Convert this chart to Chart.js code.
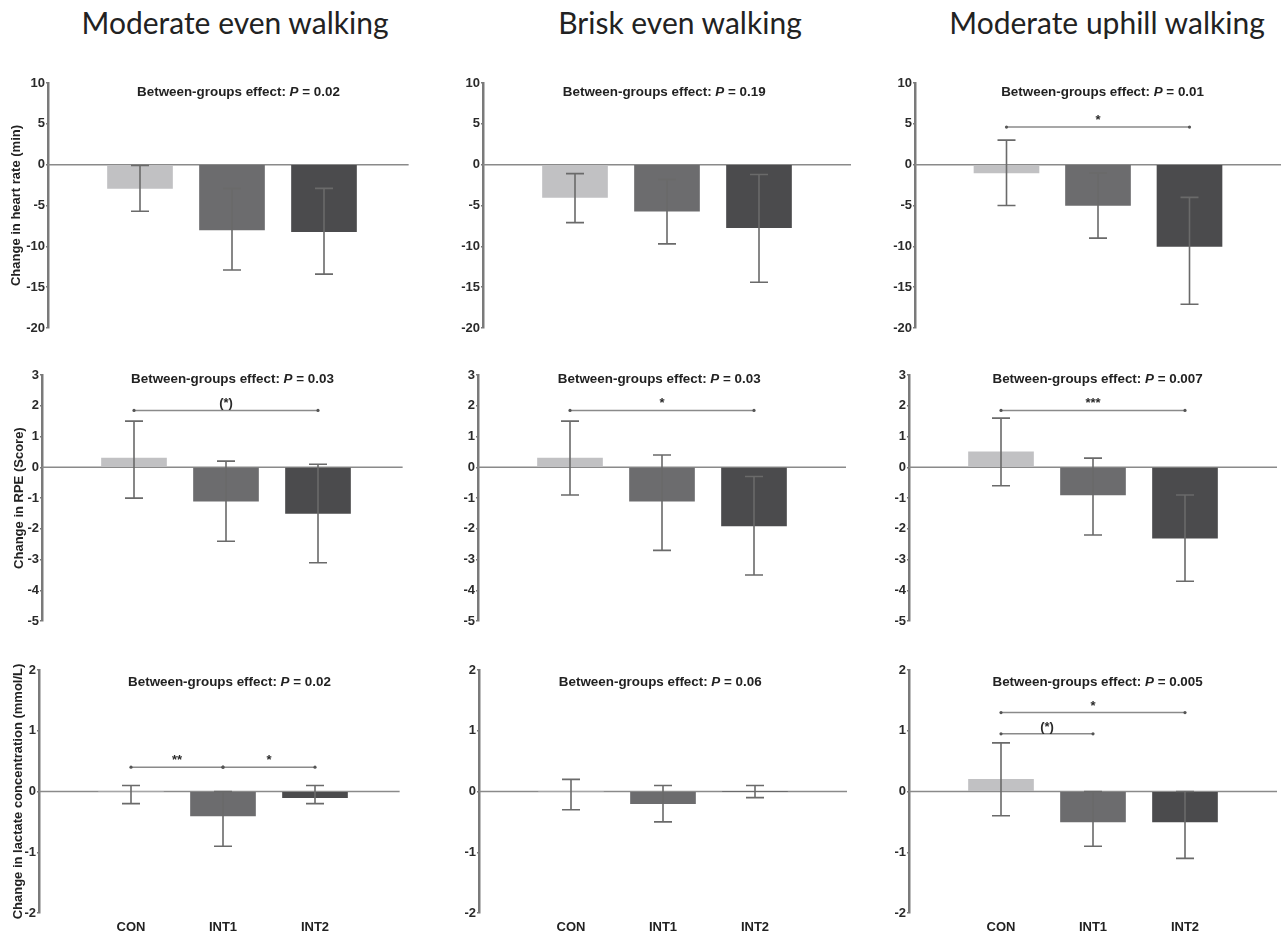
<!DOCTYPE html>
<html>
<head>
<meta charset="utf-8">
<script src="https://cdn.jsdelivr.net/npm/chart.js@4.4.1/dist/chart.umd.min.js"></script>
<style>
  html, body { margin: 0; padding: 0; background: #fff; }
  body { position: relative; width: 1282px; height: 934px; overflow: hidden; }
  .coltitle {
    position: absolute; top: 8px; font-family: Lato, "Open Sans", sans-serif;
    font-size: 30px; line-height: 28px; color: #222; white-space: nowrap;
    transform: translateX(-50%);
  }
  canvas { position: absolute; }
</style>
</head>
<body>
<script>
// groups and conditions
const groups = ["CON", "INT1", "INT2"];
const conditions = ["Moderate even walking", "Brisk even walking", "Moderate uphill walking"];
const measures = ["Change in heart rate (min)", "Change in RPE (Score)", "Change in lactate concentration (mmol/L)"];
const yMin = [-20, -5, -2];
const yMax = [10, 3, 2];
const yStep = [5, 1, 1];

// heart rate: one row per condition, values for CON, INT1, INT2
const hrMean = [[-2.9, -8.0, -8.2], [-4.0, -5.7, -7.7], [-1.0, -5.0, -10.0]];
const hrErrHigh = [[-0.1, -2.9, -2.9], [-1.1, -1.8, -1.2], [3.0, -1.0, -4.0]];
const hrErrLow = [[-5.7, -12.9, -13.4], [-7.1, -9.7, -14.4], [-5.0, -9.0, -17.1]];

// RPE
const rpeMean = [[0.3, -1.1, -1.5], [0.3, -1.1, -1.9], [0.5, -0.9, -2.3]];
const rpeErrHigh = [[1.5, 0.2, 0.1], [1.5, 0.4, -0.3], [1.6, 0.3, -0.9]];
const rpeErrLow = [[-1.0, -2.4, -3.1], [-0.9, -2.7, -3.5], [-0.6, -2.2, -3.7]];

// lactate
const lacMean = [[0.0, -0.4, -0.1], [0.0, -0.2, 0.0], [0.2, -0.5, -0.5]];
const lacErrHigh = [[0.1, 0.0, 0.1], [0.2, 0.1, 0.1], [0.8, 0.0, 0.0]];
const lacErrLow = [[-0.2, -0.9, -0.2], [-0.3, -0.5, -0.1], [-0.4, -0.9, -1.1]];

// between-groups P values (rows: measure, cols: condition)
const pValues = [["0.02", "0.19", "0.01"], ["0.03", "0.03", "0.007"], ["0.02", "0.06", "0.005"]];

// pairwise comparisons: [from group, to group, y value, label]
const hrPairs = [[], [], [[0, 2, 4.6, "*"]]];
const rpePairs = [[[0, 2, 1.85, "(*)"]], [[0, 2, 1.85, "*"]], [[0, 2, 1.85, "***"]]];
const lacPairs = [[[0, 1, 0.4, "**"], [1, 2, 0.4, "*"]], [], [[0, 2, 1.3, "*"], [0, 1, 0.95, "(*)"]]];

const means = [hrMean, rpeMean, lacMean];
const errHigh = [hrErrHigh, rpeErrHigh, lacErrHigh];
const errLow = [hrErrLow, rpeErrLow, lacErrLow];
const pairs = [hrPairs, rpePairs, lacPairs];

// layout
const colLeft = [0, 430, 860];
const colWidth = [430, 430, 422];
const colCenter = [235, 680, 1107];
const rowTop = [60, 340, 630];
const rowHeight = [280, 290, 304];
const plotTop = [83, 375, 670];
const plotBottom = [328, 622, 913];
const axisX = [[48, 483, 915], [42, 478, 909], [39, 479, 909]];
const xMax = [3.92, 4, 4];
const noteX = [2.07, 1.97, 2.05];
const noteOffset = [9, 4, 12];
const titlePad = [9, 12, 11];
const unit = 92;

const FONT = '"Liberation Sans", Arial, sans-serif';
Chart.defaults.font.family = FONT;
Chart.defaults.color = "#2a2a2a";

const barColors = ["#c1c1c3", "#6c6c6e", "#4b4b4d"];

const extras = {
  id: "extras",
  beforeDatasetsDraw(chart) {
    const { ctx, chartArea, scales } = chart;
    const y0 = scales.y.getPixelForValue(0);
    ctx.save();
    ctx.strokeStyle = "#8a8a8a";
    ctx.lineWidth = 1.5;
    ctx.beginPath();
    ctx.moveTo(chartArea.left, y0);
    ctx.lineTo(chartArea.right, y0);
    ctx.stroke();
    ctx.restore();
  },
  afterDatasetsDraw(chart, args, opts) {
    const { ctx, chartArea, scales } = chart;
    const { x, y } = scales;
    ctx.save();

    // error bars
    ctx.strokeStyle = "#6a6a6a";
    ctx.lineWidth = 1.6;
    opts.low.forEach((lo, i) => {
      const px = x.getPixelForValue(i + 1);
      const yl = y.getPixelForValue(lo);
      const yh = y.getPixelForValue(opts.high[i]);
      ctx.beginPath();
      ctx.moveTo(px, yh); ctx.lineTo(px, yl);
      ctx.moveTo(px - 9, yh); ctx.lineTo(px + 9, yh);
      ctx.moveTo(px - 9, yl); ctx.lineTo(px + 9, yl);
      ctx.stroke();
    });

    // significance brackets
    opts.pairs.forEach(([a, b, val, label]) => {
      const x1 = x.getPixelForValue(a + 1);
      const x2 = x.getPixelForValue(b + 1);
      const py = y.getPixelForValue(val);
      ctx.strokeStyle = "#8a8a8a";
      ctx.lineWidth = 1.5;
      ctx.beginPath();
      ctx.moveTo(x1, py); ctx.lineTo(x2, py);
      ctx.stroke();
      ctx.fillStyle = "#555";
      [x1, x2].forEach((ex) => {
        ctx.beginPath();
        ctx.arc(ex, py, 1.6, 0, Math.PI * 2);
        ctx.fill();
      });
      ctx.fillStyle = "#2a2a2a";
      ctx.font = "bold 13px " + FONT;
      ctx.textAlign = "center";
      ctx.textBaseline = "alphabetic";
      ctx.fillText(label, (x1 + x2) / 2, py - 3);
    });

    // between-groups note
    const parts = [
      ["Between-groups effect: ", "bold 13.4px " + FONT],
      ["P", "italic bold 13.4px " + FONT],
      [" = " + opts.p, "bold 13.4px " + FONT]
    ];
    let total = 0;
    parts.forEach(([t, f]) => { ctx.font = f; total += ctx.measureText(t).width; });
    let cx = x.getPixelForValue(opts.noteX) - total / 2;
    const cy = chartArea.top + opts.noteOffset;
    ctx.fillStyle = "#222";
    ctx.textAlign = "left";
    ctx.textBaseline = "middle";
    parts.forEach(([t, f]) => {
      ctx.font = f;
      ctx.fillText(t, cx, cy);
      cx += ctx.measureText(t).width;
    });
    ctx.restore();
  }
};

conditions.forEach((name, c) => {
  const d = document.createElement("div");
  d.className = "coltitle";
  d.style.left = colCenter[c] + "px";
  d.textContent = name;
  document.body.appendChild(d);
});

function makePanel(r, c) {
  const left = colLeft[c];
  const top = rowTop[r];
  const w = colWidth[c];
  const h = rowHeight[r];
  const canvas = document.createElement("canvas");
  canvas.width = w;
  canvas.height = h;
  canvas.style.left = left + "px";
  canvas.style.top = top + "px";
  canvas.style.width = w + "px";
  canvas.style.height = h + "px";
  document.body.appendChild(canvas);

  const axisPos = axisX[r][c] - left;
  const right = Math.min(axisX[r][c] + xMax[c] * unit, 1281) - left;
  const isBottom = r === 2;
  const bottomSpace = top + h - plotBottom[r];

  return new Chart(canvas, {
    type: "bar",
    data: {
      datasets: [{
        data: means[r][c].map((v, i) => ({ x: i + 1, y: v })),
        backgroundColor: barColors,
        borderWidth: 0,
        barThickness: 65
      }]
    },
    options: {
      responsive: false,
      animation: false,
      events: [],
      layout: {
        padding: {
          left: 0,
          right: w - right,
          top: plotTop[r] - top,
          bottom: isBottom ? 0 : bottomSpace
        }
      },
      scales: {
        x: {
          type: "linear",
          min: 0,
          max: xMax[c],
          offset: false,
          bounds: "data",
          display: isBottom,
          afterBuildTicks: (s) => { s.ticks = groups.map((g, i) => ({ value: i + 1 })); },
          afterFit: (s) => { if (isBottom) s.height = bottomSpace; },
          grid: { display: false, drawTicks: false },
          border: { display: false },
          ticks: {
            padding: 7,
            font: { size: 13, weight: "bold" },
            color: "#222",
            callback: (v) => groups[v - 1] ?? ""
          }
        },
        y: {
          min: yMin[r],
          max: yMax[r],
          afterFit: (s) => { s.width = axisPos; },
          grid: { display: true, drawOnChartArea: false, drawTicks: true, tickLength: 2, color: "#7a7a7a", lineWidth: 1.5 },
          border: { display: true, color: "#7a7a7a", width: 2.5 },
          ticks: {
            stepSize: yStep[r],
            padding: 1,
            font: { size: 13, weight: "bold" },
            color: "#2a2a2a"
          },
          title: {
            display: c === 0,
            text: measures[r],
            font: { size: 13, weight: "bold" },
            color: "#222",
            padding: { top: titlePad[r], bottom: 0 }
          }
        }
      },
      plugins: {
        legend: { display: false },
        tooltip: { enabled: false },
        extras: {
          low: errLow[r][c],
          high: errHigh[r][c],
          pairs: pairs[r][c],
          p: pValues[r][c],
          noteX: noteX[c],
          noteOffset: noteOffset[r]
        }
      }
    },
    plugins: [extras]
  });
}

for (let r = 0; r < 3; r++) {
  for (let c = 0; c < 3; c++) {
    makePanel(r, c);
  }
}
</script>
</body>
</html>
